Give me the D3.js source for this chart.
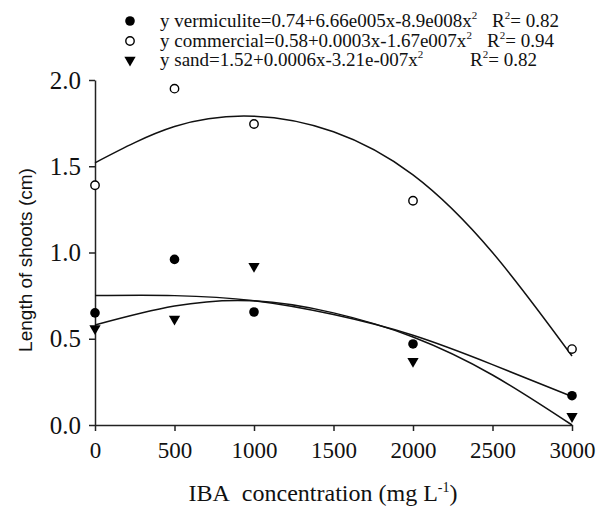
<!DOCTYPE html>
<html>
<head>
<meta charset="utf-8">
<script src="https://cdn.jsdelivr.net/npm/d3@7"></script>
</head>
<body style="margin:0">
<script>
// measured points (IBA dose, mg/L)
const doses = [0, 500, 1000, 2000, 3000];
const vermiculite = [0.65, 0.96, 0.655, 0.47, 0.17];
const commercial = [1.39, 1.95, 1.745, 1.30, 0.44];
const sand = [0.56, 0.615, 0.92, 0.37, 0.05];

// fitted curves
const fitDoses = [0, 500, 1000, 1500, 2000, 2500, 3000];
const fitVermiculite = [0.75, 0.75, 0.72, 0.64, 0.52, 0.35, 0.165];
const fitCommercial = [1.52, 1.73, 1.79, 1.70, 1.45, 1.00, 0.40];
const fitSand = [0.58, 0.69, 0.72, 0.65, 0.51, 0.29, 0.0];

const xTicks = [0, 500, 1000, 1500, 2000, 2500, 3000];
const yTicks = [0, 0.5, 1.0, 1.5, 2.0];

const legendEquations = [
  'y vermiculite=0.74+6.66e005x-8.9e008x',
  'y commercial=0.58+0.0003x-1.67e007x',
  'y sand=1.52+0.0006x-3.21e-007x',
];
const legendR2 = ['0.82', '0.94', '0.82'];
const legendKeys = ['filled', 'open', 'triangle'];

const width = 597;
const height = 508;
const serif = 'Liberation Serif';

const svg = d3.select('body')
  .append('svg')
  .attr('width', width)
  .attr('height', height)
  .style('display', 'block');

// scales
const x = d3.scaleLinear().domain([0, 3000]).range([95, 572]);
const y = d3.scaleLinear().domain([0, 2]).range([425, 80]);

// axes
const xAxis = svg.append('g')
  .attr('transform', `translate(0,${y(0)})`)
  .call(d3.axisBottom(x).tickValues(xTicks).tickFormat(d3.format('d'))
    .tickSize(6).tickSizeOuter(0).tickPadding(11));

const yAxis = svg.append('g')
  .attr('transform', `translate(${x(0)},0)`)
  .call(d3.axisLeft(y).tickValues(yTicks).tickFormat(d3.format('.1f'))
    .tickSize(6).tickSizeOuter(0).tickPadding(8));

[xAxis, yAxis].forEach(g => {
  g.attr('font-family', serif);
  g.select('.domain').attr('stroke', '#222').attr('stroke-width', 1.5);
  g.selectAll('.tick line').attr('stroke', '#222').attr('stroke-width', 1.5);
  g.selectAll('.tick text')
    .attr('fill', '#111')
    .attr('font-family', serif)
    .attr('font-size', 23);
});
yAxis.selectAll('.tick text').attr('font-size', 25);

// fitted curves
const line = d3.line()
  .x((d, i) => x(fitDoses[i]))
  .y(d => y(d))
  .curve(d3.curveNatural);

[fitCommercial, fitVermiculite, fitSand].forEach(s => {
  svg.append('path')
    .attr('d', line(s))
    .attr('fill', 'none')
    .attr('stroke', '#111')
    .attr('stroke-width', 1.5);
});

// marker drawers
const tri = d3.symbol().type(d3.symbolTriangle).size(55);

function drawMarker(g, kind, cx, cy) {
  if (kind === 'filled') {
    g.append('circle').attr('cx', cx).attr('cy', cy).attr('r', 4.8).attr('fill', '#000');
  } else if (kind === 'open') {
    g.append('circle').attr('cx', cx).attr('cy', cy).attr('r', 4.2)
      .attr('fill', '#fff').attr('stroke', '#000').attr('stroke-width', 1.4);
  } else {
    g.append('path').attr('d', tri())
      .attr('transform', `translate(${cx},${cy}) rotate(180)`)
      .attr('fill', '#000');
  }
}

const pts = svg.append('g');
doses.forEach((d, i) => {
  drawMarker(pts, 'filled', x(d), y(vermiculite[i]));
  drawMarker(pts, 'open', x(d), y(commercial[i]));
  drawMarker(pts, 'triangle', x(d), y(sand[i]));
});

// every text/tspan gets its own font attributes
function txt(parent, size) {
  return parent.append('text')
    .attr('font-family', serif).attr('font-size', size).attr('fill', '#111');
}
function span(parent, size, str) {
  return parent.append('tspan')
    .attr('font-family', serif).attr('font-size', size).text(str);
}

// legend
const legendRows = [27, 47, 66];
const r2X = [492, 487, 470];
const legend = svg.append('g');
legendEquations.forEach((eq, i) => {
  drawMarker(legend, legendKeys[i], 130, legendRows[i] - 6);
  const t = txt(legend, 19).attr('x', 160).attr('y', legendRows[i]);
  span(t, 19, eq);
  span(t, 11, '2').attr('dy', -8);

  const r = txt(legend, 19).attr('x', r2X[i]).attr('y', legendRows[i]);
  span(r, 19, 'R');
  span(r, 11, '2').attr('dy', -8);
  span(r, 19, '= ' + legendR2[i]).attr('dy', 8);
});

// x axis title
const xt = txt(svg, 24)
  .attr('x', 323)
  .attr('y', 501)
  .attr('text-anchor', 'middle');
span(xt, 24, 'IBA');
span(xt, 24, 'concentration (mg L').attr('dx', 12);
span(xt, 14, '-1').attr('dy', -9);
span(xt, 24, ')').attr('dy', 9);

// y axis title
svg.append('text')
  .attr('transform', 'rotate(-90)')
  .attr('x', -260)
  .attr('y', 32)
  .attr('text-anchor', 'middle')
  .attr('font-family', 'Liberation Sans')
  .attr('font-size', 19)
  .attr('fill', '#111')
  .text('Length of shoots (cm)');
</script>
</body>
</html>
